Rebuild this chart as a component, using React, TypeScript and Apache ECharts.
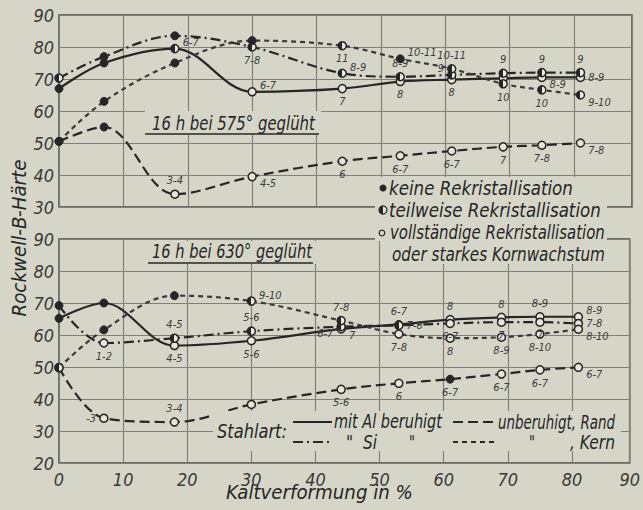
import React, { useEffect, useRef } from "react";
import * as echarts from "echarts";

// ---------- data ----------
const xs = [0, 7, 18, 30, 44, 53, 61, 69, 75, 81];
const xTicks = [0, 10, 20, 30, 40, 50, 60, 70, 80, 90];

// 16 h bei 575° geglüht
const topAl = [67, 75, 79.5, 66, 67, 69.2, 69.8, 70.2, 70.5, 70.5];
const topAlMark = ["k", "k", "t", "v", "v", "v", "v", "v", "v", "v"];
const topAlLab = ["", "", "6-7", "6-7", "7", "8", "8", "", "8-9", "8-9"];
const topAlPos = ["", "", "rightTop", "rightTop", "bottom", "bottom", "bottom", "", "rightBottom", "right"];

const topSi = [70.3, 77, 83.5, 80, 71.8, 70.7, 71.3, 71.8, 72, 72];
const topSiMark = ["t", "k", "k", "t", "t", "t", "t", "t", "t", "t"];
const topSiLab = ["", "", "", "7-8", "8-9", "8-9", "9", "9", "9", "9"];
const topSiPos = ["", "", "", "bottom", "rightTop", "top", "leftTop", "top", "top", "top"];

const topKern = [50.5, 63, 75, 82, 80.4, 76.3, 73.2, 68.5, 66.6, 65];
const topKernMark = ["k", "k", "k", "k", "t", "k", "t", "t", "t", "t"];
const topKernLab = ["", "", "", "", "11", "10-11", "10-11", "10", "10", "9-10"];
const topKernPos = ["", "", "", "", "bottom", "rightTop", "top", "bottom", "bottom", "rightBottom"];

const topRand = [50.5, 55, 34, 39.5, 44.3, 46, 47.5, 48.8, 49.3, 50];
const topRandMark = ["k", "k", "v", "v", "v", "v", "v", "v", "v", "v"];
const topRandLab = ["", "", "3-4", "4-5", "6", "6-7", "6-7", "7", "7-8", "7-8"];
const topRandPos = ["", "", "top", "rightBottom", "bottom", "bottom", "bottom", "bottom", "bottom", "rightBottom"];

// 16 h bei 630° geglüht
const botAl = [65.2, 70, 56.7, 58.2, 61.9, 63.3, 64.8, 65.5, 65.7, 65.7];
const botAlMark = ["k", "k", "v", "v", "v", "k", "v", "v", "v", "v"];
const botAlLab = ["", "", "4-5", "5-6", "7", "6-7", "8", "8", "8-9", "8-9"];
const botAlPos = ["", "", "bottom", "bottom", "rightBottom", "top", "top", "top", "top", "rightTop"];

const botSi = [69.2, 57.5, 59, 61.2, 62.6, 63, 63.6, 64, 64, 63.6];
const botSiMark = ["k", "v", "t", "t", "t", "t", "v", "v", "v", "v"];
const botSiLab = ["", "1-2", "4-5", "5-6", "6-7", "7-8", "6-7", "7", "7", "7-8"];
const botSiPos = ["", "bottom", "top", "top", "leftBottom", "right", "bottom", "bottom", "bottom", "right"];

const botKern = [49.8, 61.6, 72.3, 70.6, 64.5, 60.3, 59, 59.3, 60.3, 61.8];
const botKernMark = ["t", "k", "k", "t", "t", "v", "v", "v", "v", "v"];
const botKernLab = ["", "", "", "9-10", "7-8", "7-8", "8", "8-9", "8-10", "8-10"];
const botKernPos = ["", "", "", "rightTop", "top", "bottom", "bottom", "bottom", "bottom", "rightBottom"];

const botRand = [49.8, 34, 32.8, 38.3, 43, 44.9, 46.2, 47.8, 49.1, 49.9];
const botRandMark = ["t", "v", "v", "v", "v", "v", "k", "v", "v", "v"];
const botRandLab = ["", "-3", "3-4", "4-5", "5-6", "6", "6-7", "6-7", "6-7", "6-7"];
const botRandPos = ["", "left", "top", "bottom", "bottom", "bottom", "bottom", "bottom", "bottom", "rightBottom"];

// ---------- styles ----------
const BG = "#d5d6c7";
const INK = "#262626";
const GRIDC = "#7f8077";
const FONT = "'Liberation Sans Narrow', 'DejaVu Sans Condensed', 'Roboto Condensed', sans-serif";

const halfFill = () =>
  new echarts.graphic.LinearGradient(0, 0, 1, 0, [
    { offset: 0, color: INK },
    { offset: 0.5, color: INK },
    { offset: 0.5, color: "#ecece2" },
    { offset: 1, color: "#ecece2" },
  ]);

function markStyle(m: string) {
  if (m === "k") return { color: INK, borderColor: INK, borderWidth: 1 };
  if (m === "t") return { color: halfFill(), borderColor: INK, borderWidth: 1.5 };
  return { color: "#e6e6da", borderColor: INK, borderWidth: 1.5 };
}

function labelPlace(p: string) {
  if (p === "rightTop") return { position: "right", offset: [0, -6] };
  if (p === "rightBottom") return { position: "right", offset: [0, 7] };
  if (p === "leftTop") return { position: "left", offset: [0, -6] };
  if (p === "leftBottom") return { position: "left", offset: [0, 7] };
  return { position: p, offset: [0, 0] };
}

function mkSeries(
  name: string,
  ys: number[],
  marks: string[],
  labs: string[],
  pos: string[],
  dash: any,
  color: string,
  gi: number
) {
  return {
    name,
    type: "line",
    xAxisIndex: gi,
    yAxisIndex: gi,
    smooth: 0.35,
    symbol: "circle",
    symbolSize: 8,
    lineStyle: { color, width: 2.2, type: dash },
    data: xs.map((x, i) => ({
      value: [x, ys[i]],
      itemStyle: markStyle(marks[i]),
      label: labs[i]
        ? {
            show: true,
            formatter: labs[i],
            ...labelPlace(pos[i]),
            distance: 3,
            fontSize: 11,
            fontStyle: "italic",
            fontFamily: FONT,
            color: "#3c3c3c",
          }
        : { show: false },
    })),
    z: 3,
  };
}

const SOLID = "solid";
const DASHDOT = [10, 4, 2, 4];
const LONGDASH = [10, 5];
const SHORTDASH = [5, 4];

let measureCtx: CanvasRenderingContext2D | null = null;
function measure(text: string, font: string) {
  if (!measureCtx) measureCtx = document.createElement("canvas").getContext("2d");
  if (!measureCtx) return 0;
  measureCtx.font = font;
  return measureCtx.measureText(text).width;
}

export default function App() {
  const ref = useRef<HTMLDivElement>(null);
  useEffect(() => {
    document.body.style.margin = "0";
    const chart = echarts.init(ref.current!, null, { renderer: "svg" });
    const axisLabel = { fontSize: 18, fontStyle: "italic", fontFamily: FONT, color: "#3a3a3a" };
    // text fitted to a target width
    const txt = (text: string, x: number, y: number, w: number, size = 19, extra: any = {}) => {
      const font = `italic ${size}px ${FONT}`;
      const m = measure(text, font);
      const s = m > 0 ? w / m : 1;
      return {
        type: "text",
        x,
        y,
        scaleX: s,
        z: 101,
        style: { text, font, fill: INK, verticalAlign: "middle", ...extra },
      };
    };
    const ln = (x1: number, y1: number, x2: number, y2: number, dash: any = null, w = 2.2) => ({
      type: "line",
      z: 101,
      shape: { x1, y1, x2, y2 },
      style: { stroke: INK, lineWidth: w, lineDash: dash },
    });
    const rc = (x: number, y: number, width: number, height: number) => ({
      type: "rect",
      z: 100,
      shape: { x, y, width, height },
      style: { fill: BG },
    });
    const ytitle = txt("Rockwell-B-Härte", 20, 238, 157, 19, { align: "center" });
    (ytitle as any).rotation = Math.PI / 2;
    const option: any = {
      animation: false,
      backgroundColor: BG,
      grid: [
        { left: 59, top: 15, width: 573, height: 192, show: true, borderColor: "#4a4a44", borderWidth: 1.5, backgroundColor: "transparent" },
        { left: 59, top: 239, width: 573, height: 224, show: true, borderColor: "#4a4a44", borderWidth: 1.5, backgroundColor: "transparent" },
      ],
      xAxis: [0, 1].map((gi) => ({
        type: "value",
        gridIndex: gi,
        min: xTicks[0],
        max: 89,
        interval: 10,
        axisLine: { show: false },
        axisTick: { show: false },
        splitLine: { show: true, lineStyle: { color: GRIDC, width: 1.2 } },
        axisLabel:
          gi === 1
            ? { ...axisLabel, margin: 7, formatter: (v: number) => (v === 89 ? String(xTicks[9]) : String(v)) }
            : { show: false },
      })),
      yAxis: [
        { min: 30, max: 90 },
        { min: 20, max: 90 },
      ].map((r, gi) => ({
        type: "value",
        gridIndex: gi,
        min: r.min,
        max: r.max,
        interval: 10,
        axisLine: { show: false },
        axisTick: { show: false },
        splitLine: { show: true, lineStyle: { color: GRIDC, width: 1.2 } },
        axisLabel: { ...axisLabel, margin: 5 },
      })),
      series: [
        mkSeries("Al 575", topAl, topAlMark, topAlLab, topAlPos, SOLID, INK, 0),
        mkSeries("Si 575", topSi, topSiMark, topSiLab, topSiPos, DASHDOT, INK, 0),
        mkSeries("Kern 575", topKern, topKernMark, topKernLab, topKernPos, SHORTDASH, "#3a3a3a", 0),
        mkSeries("Rand 575", topRand, topRandMark, topRandLab, topRandPos, LONGDASH, INK, 0),
        mkSeries("Al 630", botAl, botAlMark, botAlLab, botAlPos, SOLID, INK, 1),
        mkSeries("Si 630", botSi, botSiMark, botSiLab, botSiPos, DASHDOT, INK, 1),
        mkSeries("Kern 630", botKern, botKernMark, botKernLab, botKernPos, SHORTDASH, "#3a3a3a", 1),
        mkSeries("Rand 630", botRand, botRandMark, botRandLab, botRandPos, LONGDASH, INK, 1),
      ],
      graphic: [
        ytitle,
        txt("Kaltverformung in %", 226, 493, 187),
        // panel titles
        rc(145, 111, 176, 24),
        txt("16 h bei 575° geglüht", 152, 123, 163),
        ln(145, 134, 319, 134, null, 1.5),
        rc(145, 241, 174, 23),
        txt("16 h bei 630° geglüht", 152, 252, 160),
        ln(148, 263, 313, 263, null, 1.5),
        // recrystallisation legend
        rc(375, 177, 232, 64),
        rc(388, 241, 219, 23),
        { type: "circle", z: 101, shape: { cx: 383, cy: 188, r: 3.5 }, style: { fill: INK } },
        txt("keine Rekristallisation", 389, 188, 184),
        { type: "circle", z: 101, shape: { cx: 383, cy: 210, r: 4 }, style: { fill: halfFill(), stroke: INK, lineWidth: 1.3 } },
        txt("teilweise Rekristallisation", 389, 210, 212),
        { type: "circle", z: 101, shape: { cx: 382, cy: 233, r: 2.8 }, style: { fill: BG, stroke: INK, lineWidth: 1.2 } },
        txt("vollständige Rekristallisation", 390, 232, 215),
        txt("oder starkes Kornwachstum", 392, 254, 213),
        // Stahlart legend
        rc(213, 411, 408, 40),
        txt("Stahlart:", 217, 431, 70),
        ln(293, 422, 332, 422),
        txt("mit Al beruhigt", 334, 422, 108),
        ln(453, 422, 496, 422, LONGDASH),
        txt("unberuhigt, Rand", 498, 422, 117),
        ln(293, 442, 331, 442, DASHDOT),
        txt('"  Si', 346, 442, 31),
        txt('"', 409, 442, 6),
        ln(453, 442, 496, 442, SHORTDASH),
        txt('"', 529, 442, 6),
        txt(", Kern", 570, 442, 45),
      ],
    };
    chart.setOption(option);
    return () => chart.dispose();
  }, []);
  return <div ref={ref} style={{ position: "fixed", left: 0, top: 0, width: 643, height: 510 }} />;
}
